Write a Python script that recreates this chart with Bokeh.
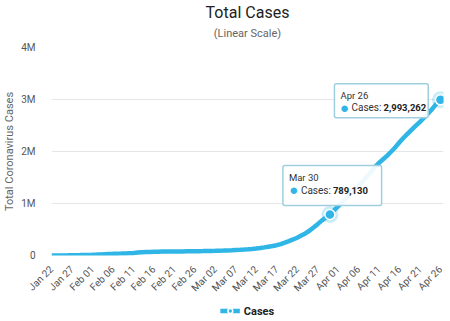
import pandas as pd
from math import pi
from bokeh.plotting import figure
from bokeh.layouts import column
from bokeh.models import (ColumnDataSource, Range1d, FixedTicker, DatetimeTickFormatter,
                          Label, Title, Legend, LegendItem)
from bokeh.embed import file_html
from bokeh.resources import INLINE

# ---------------- data ----------------
start_date = "2020-01-22"
cases = [
    580, 845, 1317, 2015, 2800, 4581, 6058, 7813, 9823, 11950,          # Jan 22 - Jan 31
    14553, 17391, 20630, 24545, 28266, 31439, 34876, 37552, 40553, 43099,  # Feb 01 - Feb 10
    45134, 59287, 64438, 67100, 69197, 71329, 73332, 75184, 75700, 76677,  # Feb 11 - Feb 20
    77673, 78651, 79205, 80087, 80828, 81820, 83112, 84615, 86604,         # Feb 21 - Feb 29
    88585, 90443, 93016, 95314, 98425, 102050, 106099, 109991, 114381, 118948,  # Mar 01 - Mar 10
    126214, 134576, 145483, 156653, 169593, 182490, 198238, 218822, 246417, 276113,  # Mar 11 - Mar 20
    308615, 341585, 383750, 424889, 475706, 538666, 603066, 670723, 730300, 789130,  # Mar 21 - Mar 30
    867000,                                                               # Mar 31
    944000, 1025000, 1106000, 1199000, 1273000, 1346000, 1429000, 1516000, 1603000, 1699000,  # Apr 01 - Apr 10
    1781000, 1851000, 1922000, 2000000, 2083000, 2178000, 2265000, 2344000, 2421000, 2496000,  # Apr 11 - Apr 20
    2571000, 2649000, 2733000, 2819000, 2916000, 2993262,                 # Apr 21 - Apr 26
]
dates = pd.date_range(start_date, periods=len(cases), freq="D")
x_tick_dates = list(dates[::5])

y_ticks = [0, 1000000, 2000000, 3000000, 4000000]
y_tick_labels = ["0", "1M", "2M", "3M", "4M"]

hl_dates = ["2020-03-30", "2020-04-26"]
hl_values = [789130, 2993262]
hl_date_labels = ["Mar 30", "Apr 26"]
hl_value_labels = ["789,130", "2,993,262"]
series_name = "Cases"

# ---------------- styles ----------------
FONT = "Roboto"
BLUE = "#2fb5e6"

def ms(d):
    return pd.Timestamp(d).value / 1e6

src = ColumnDataSource(dict(date=dates, cases=cases))
hl_src = ColumnDataSource(dict(date=pd.to_datetime(hl_dates), cases=hl_values))

p = figure(width=450, height=300, output_backend="svg", toolbar_location=None,
           x_axis_type="datetime",
           x_range=Range1d(ms(dates[0]), ms(dates[-1]) + 18 * 3600 * 1000),
           y_range=Range1d(0, 4000000),
           min_border_left=48, min_border_right=7, min_border_top=0, min_border_bottom=45)
p.outline_line_color = None
p.background_fill_color = "white"
p.border_fill_color = "white"

# titles
p.add_layout(Title(text="(Linear Scale)", align="center", text_font=FONT,
                   text_font_size="11px", text_font_style="normal", text_color="#666666",
                   standoff=11, vertical_align="top"), "above")
p.add_layout(Title(text="Total Cases", align="center", text_font=FONT,
                   text_font_size="16px", text_font_style="normal", text_color="#222222",
                   standoff=0, text_line_height=0.95), "above")

# axes
p.xaxis.ticker = FixedTicker(ticks=[ms(d) for d in x_tick_dates])
p.xaxis.formatter = DatetimeTickFormatter(days="%b %d", months="%b %d")
p.xaxis.major_label_orientation = pi / 4
p.xaxis.axis_line_color = None
p.xaxis.major_tick_line_color = None
p.xaxis.minor_tick_line_color = None
p.xaxis.major_label_text_font = FONT
p.xaxis.major_label_text_font_size = "10px"
p.xaxis.major_label_text_color = "#555555"
p.xaxis.major_label_standoff = 6

p.yaxis.ticker = FixedTicker(ticks=y_ticks)
p.yaxis.major_label_overrides = {t: l for t, l in zip(y_ticks, y_tick_labels)}
p.yaxis.axis_label = "Total Coronavirus Cases"
p.yaxis.axis_label_text_font = FONT
p.yaxis.axis_label_text_font_size = "11px"
p.yaxis.axis_label_text_font_style = "normal"
p.yaxis.axis_label_text_color = "#666666"
p.yaxis.axis_label_standoff = 2
p.yaxis.axis_line_color = None
p.yaxis.major_tick_line_color = None
p.yaxis.minor_tick_line_color = None
p.yaxis.major_label_text_font = FONT
p.yaxis.major_label_text_font_size = "10px"
p.yaxis.major_label_text_color = "#555555"
p.yaxis.major_label_standoff = 10

p.xgrid.grid_line_color = None
p.ygrid.grid_line_color = "#e6e6e6"
p.ygrid.grid_line_width = 1

# series
line_r = p.line("date", "cases", source=src, line_color=BLUE, line_width=4.5)
p.scatter("date", "cases", source=hl_src, size=17, fill_color=BLUE, fill_alpha=0.25, line_color=None)
dot_r = p.scatter("date", "cases", source=hl_src, size=10, fill_color=BLUE,
                  line_color="white", line_width=1.5)

# tooltip boxes (offsets in screen pixels relative to the highlighted point)
tip_styles = [
    dict(dx=-47, dy=49, pad=dict(left=6, right=63, top=7, bottom=22), dot=-36, lab=-29, val=3, row=24),
    dict(dx=-106, dy=16, pad=dict(left=6, right=60, top=6, bottom=17), dot=-96, lab=-89, val=-57, row=-8),
]
for d, v, dl, vl, st in zip(hl_dates, hl_values, hl_date_labels, hl_value_labels, tip_styles):
    x = ms(d)
    p.add_layout(Label(x=x, y=v, x_offset=st["dx"], y_offset=st["dy"], text=dl,
                       text_font=FONT, text_font_size="9.5px", text_color="#333333",
                       text_align="left", text_baseline="top",
                       background_fill_color="white", background_fill_alpha=0.92,
                       border_line_color="#9fcfdf", border_line_width=1.5,
                       border_radius=2, padding=st["pad"]))
    p.add_layout(Label(x=x, y=v, x_offset=st["dot"], y_offset=st["row"], text="●",
                       text_font=FONT, text_font_size="15px", text_color=BLUE,
                       text_align="center", text_baseline="middle"))
    p.add_layout(Label(x=x, y=v, x_offset=st["lab"], y_offset=st["row"], text=series_name + ":",
                       text_font=FONT, text_font_size="10px", text_color="#333333",
                       text_align="left", text_baseline="middle"))
    p.add_layout(Label(x=x, y=v, x_offset=st["val"], y_offset=st["row"], text=vl,
                       text_font=FONT, text_font_size="9.5px", text_font_style="bold",
                       text_color="#222222", text_align="left", text_baseline="middle"))

# legend strip below the chart (renderers share the series styling, no data of their own)
lf = figure(width=450, height=21, output_backend="svg", toolbar_location=None,
            min_border=0, x_axis_type=None, y_axis_type=None)
lf.outline_line_color = None
lf.grid.grid_line_color = None
blank = ColumnDataSource(dict(x=[float("nan")], y=[float("nan")]))
lg_line = lf.line("x", "y", source=blank, line_color=BLUE, line_width=4.5)
lg_dot = lf.scatter("x", "y", source=blank, size=10, fill_color=BLUE,
                    line_color="white", line_width=1.5)
legend = Legend(items=[LegendItem(label=series_name, renderers=[lg_line, lg_dot])],
                orientation="horizontal", location="center",
                label_text_font=FONT, label_text_font_size="11px", label_text_font_style="bold",
                label_text_color="#222222", glyph_width=20, glyph_height=12, label_standoff=4,
                border_line_color=None, background_fill_alpha=0, margin=0, padding=2)
lf.add_layout(legend, "center")

layout = column(p, lf, spacing=0)
open("out.html", "w").write(file_html(layout, INLINE))
